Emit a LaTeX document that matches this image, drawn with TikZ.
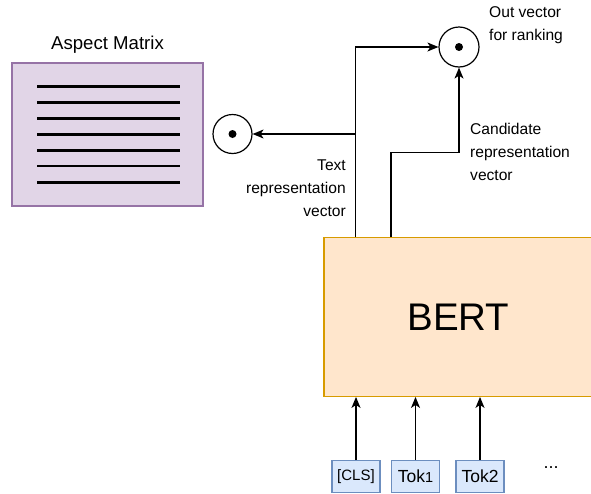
\documentclass[tikz,border=0pt]{standalone}
\usepackage{fontspec}
\setmainfont{Liberation Sans}
\usetikzlibrary{arrows.meta,positioning}
\definecolor{purfill}{HTML}{E1D5E7}
\definecolor{purdraw}{HTML}{9673A6}
\definecolor{orfill}{HTML}{FFE6CC}
\definecolor{ordraw}{HTML}{D79B00}
\definecolor{blfill}{HTML}{DAE8FC}
\definecolor{bldraw}{HTML}{6C8EBF}
\tikzset{
  arr/.style={line width=1.3pt,-{Stealth[length=11pt,width=9pt,inset=3pt]}},
  lbl/.style={inner sep=0pt,font=\fontsize{15.6}{22.8}\selectfont},
  tokbox/.style={draw=bldraw,fill=blfill,line width=1.2pt,minimum width=48pt,minimum height=31.5pt,inner sep=0pt,font=\fontsize{17.5}{20}\selectfont},
  opcirc/.style={circle,draw,line width=1.2pt,minimum size=40pt,inner sep=0pt},
  mline/.style={line width=2.6pt}
}
\begin{document}
\begin{tikzpicture}[x=1pt,y=-1pt]
\useasboundingbox (0,0) rectangle (591,493);
% Aspect matrix
\node[draw=purdraw,fill=purfill,line width=1.2pt,minimum width=191pt,minimum height=143pt,inner sep=0pt] (am) at (107.5,134.5) {};
\node[inner sep=0pt,font=\fontsize{18.6}{22}\selectfont] (amt) at (107.5,44.5) {Aspect Matrix};
\foreach \yy in {86.5,102.5,118.5,134.3,150.2,166,182.2}
  \draw[mline] (37,\yy) -- (180,\yy);
% circles
\node[opcirc,minimum size=39pt] (circL) at (232.5,134) {};
\fill (circL.center) circle (4pt);
\node[opcirc] (circT) at (459,47) {};
\fill (circT.center) circle (4pt);
% BERT
\node[draw=ordraw,fill=orfill,line width=1.3pt,minimum width=269pt,minimum height=158.5pt,inner sep=0pt,font=\fontsize{38.5}{40}\selectfont] (bert) at (458.5,317) {BERT};
% tokens
\node[tokbox,font=\fontsize{15}{18}\selectfont] (cls) at (356,476.5) {[CLS]};
\node[tokbox] (tok1) at (415.5,476.5) {Tok{\fontsize{14.5}{18}\selectfont 1}};
\node[tokbox] (tok2) at (480,476.5) {Tok2};
\node[inner sep=0pt,font=\fontsize{18}{20}\selectfont] (dots) at (551,468) {...};
\foreach \t in {cls,tok1,tok2}
  \draw[arr] (\t.north) -- (\t.north |- bert.south);
% connectors
\coordinate (t0) at ([xshift=32pt]bert.north west);
\coordinate (c0) at ([xshift=67.7pt]bert.north west);
\coordinate (tb) at (t0 |- circL.east);
\coordinate (ck) at (459,152.7);
\draw[arr] (t0) |- (circT.west);
\draw[arr] (tb) -- (circL.east);
\draw[arr] (c0) |- (ck) -- (circT.south);
% labels
\node[lbl,align=right,anchor=east] (ltext) at (346,188.5) {Text\\representation\\vector};
\node[lbl,align=left,anchor=west] (lcand) at (470,152) {Candidate\\representation\\vector};
\node[lbl,align=left,anchor=west] (lout) at (489,25) {Out vector\\for ranking};
\end{tikzpicture}
\end{document}
